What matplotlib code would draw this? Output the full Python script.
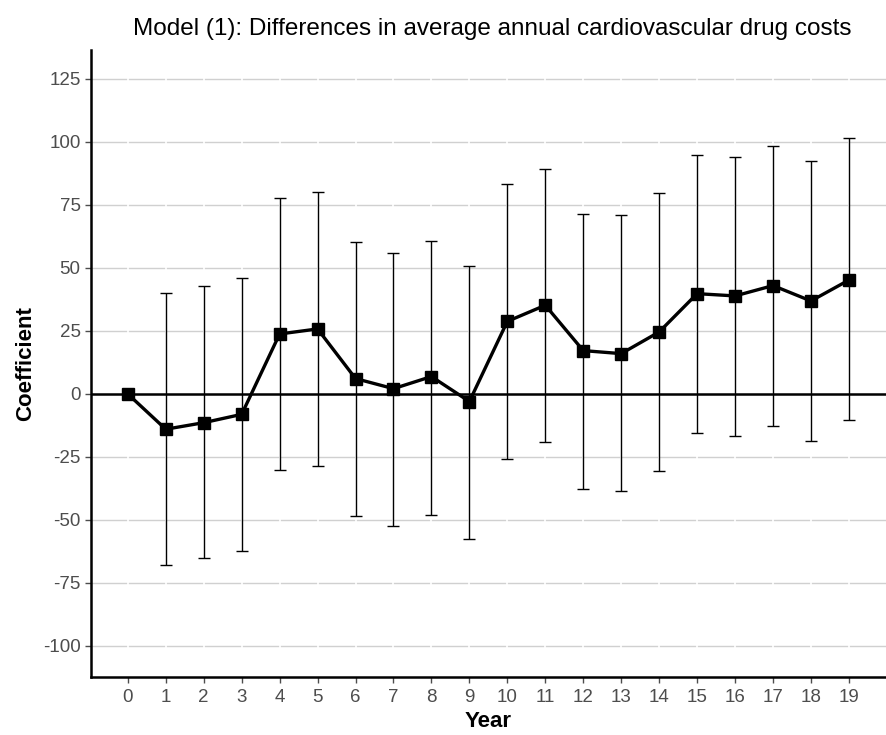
import matplotlib.pyplot as plt

plt.rcParams['font.family'] = ['Liberation Sans', 'DejaVu Sans']
plt.rcParams['axes.unicode_minus'] = False

years = list(range(20))
coef = [0.0, -14.0, -11.4, -8.1, 23.8, 25.8, 6.1, 2.1, 6.9, -3.0,
        28.8, 35.2, 17.2, 16.0, 24.6, 39.8, 38.9, 43.0, 36.9, 45.2]
ci_low = [0.0, -67.7, -65.2, -62.4, -30.0, -28.4, -48.4, -52.6, -47.9, -57.7,
          -25.7, -19.2, -37.6, -38.6, -30.4, -15.3, -16.5, -12.7, -18.7, -10.4]
ci_high = [0.0, 40.2, 42.9, 46.2, 77.9, 80.0, 60.2, 55.8, 60.8, 50.9,
           83.5, 89.3, 71.4, 70.9, 79.6, 94.8, 94.2, 98.5, 92.6, 101.7]
yticks = [-100, -75, -50, -25, 0, 25, 50, 75, 100, 125]

fig = plt.figure(figsize=(8.86, 7.35), dpi=100)
ax = fig.add_axes([0.1027, 0.079, 0.897, 0.853])

# light horizontal grid, broken by white vertical grid at each year
for y in yticks:
    ax.axhline(y, color='#d0d0d0', lw=1.0, zorder=0)
for x in years:
    ax.axvline(x, color='white', lw=1.2, zorder=0.5)

ax.axhline(0, color='black', lw=1.8, zorder=1)

err_lo = [c - l for c, l in zip(coef, ci_low)]
err_hi = [h - c for c, h in zip(coef, ci_high)]
ax.errorbar(years, coef, yerr=[err_lo, err_hi], fmt='none', ecolor='black',
            elinewidth=1.0, capsize=4.5, capthick=1.0, zorder=2)
ax.plot(years, coef, color='black', lw=2.4, marker='s', markersize=8, zorder=3)

ax.set_xlim(-0.97, 19.97)
ax.set_ylim(-112.3, 136.5)
ax.set_xticks(years)
ax.set_yticks(yticks)
ax.tick_params(axis='both', colors='#4d4d4d', labelsize=13.5, length=4, width=1)
ax.tick_params(axis='x', pad=5)

for s in ['top', 'right']:
    ax.spines[s].set_visible(False)
for s in ['left', 'bottom']:
    ax.spines[s].set_linewidth(1.8)
    ax.spines[s].set_color('black')

ax.set_xlabel('Year', fontsize=16, fontweight='bold', labelpad=3)
ax.set_ylabel('Coefficient', fontsize=16, fontweight='bold', labelpad=5)
ax.set_title('Model (1): Differences in average annual cardiovascular drug costs',
             fontsize=17.5, pad=11, x=0.505)

fig.savefig('out.png', dpi=100)
